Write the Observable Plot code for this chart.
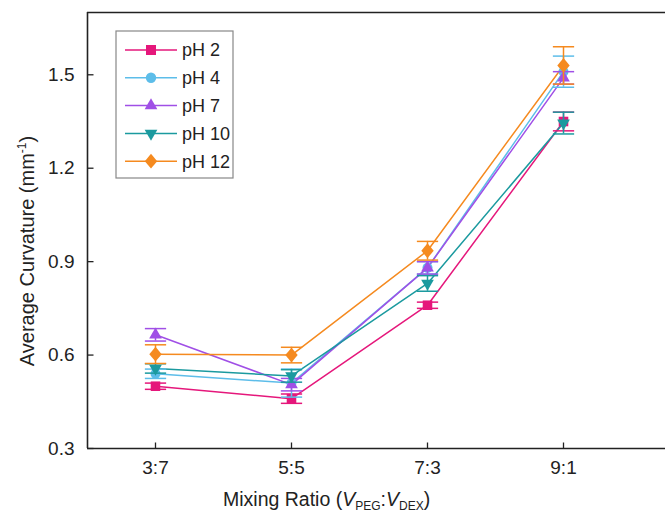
<!DOCTYPE html>
<html>
<head>
<meta charset="utf-8">
<script src="https://cdn.jsdelivr.net/npm/d3@7"></script>
<script src="https://cdn.jsdelivr.net/npm/@observablehq/plot@0.6"></script>
<style>
  html, body { margin: 0; padding: 0; background: #fff; }
  #chart { width: 665px; height: 516px; }
  svg { font-family: "Liberation Sans", Arial, sans-serif; }
</style>
</head>
<body>
<div id="chart"></div>
<script>
const ratios = ["3:7", "5:5", "7:3", "9:1"];
const seriesNames = ["pH 2", "pH 4", "pH 7", "pH 10", "pH 12"];
const colors = ["#E5177B", "#5DBDE9", "#A04FE6", "#1B9A9F", "#F58A1F"];
const symbols = ["square", "circle", "triangle", "triangleDown", "diamond"];

const pH2  = [0.50, 0.46, 0.76, 1.35];
const pH4  = [0.54, 0.51, 0.88, 1.51];
const pH7  = [0.665, 0.505, 0.88, 1.49];
const pH10 = [0.557, 0.533, 0.83, 1.345];
const pH12 = [0.603, 0.60, 0.935, 1.53];

const err2  = [0.010, 0.015, 0.010, 0.030];
const err4  = [0.015, 0.045, 0.020, 0.050];
const err7  = [0.020, 0.020, 0.020, 0.020];
const err10 = [0.015, 0.020, 0.025, 0.035];
const err12 = [0.030, 0.025, 0.030, 0.060];

const yTicks = [0.3, 0.6, 0.9, 1.2, 1.5];
const xTicks = [1, 2, 3, 4];

const values = [pH2, pH4, pH7, pH10, pH12];
const errors = [err2, err4, err7, err10, err12];

const rows = [];
values.forEach((vals, si) => {
  vals.forEach((v, i) => {
    rows.push({series: seriesNames[si], si, xi: i + 1, ratio: ratios[i], y: v, e: errors[si][i]});
  });
});

const capSymbol = {
  draw(ctx, size) {
    const w = Math.sqrt(size);
    ctx.moveTo(-w, 0);
    ctx.lineTo(w, 0);
  }
};
// inward tick symbols
const tickRight = { draw(ctx) { ctx.moveTo(0, 0); ctx.lineTo(6, 0); } };
const tickUp = { draw(ctx) { ctx.moveTo(0, 0); ctx.lineTo(0, -6); } };
const diamondSym = {
  draw(ctx, size) {
    const w = 6.2, h = 7.4;
    ctx.moveTo(0, -h); ctx.lineTo(w, 0); ctx.lineTo(0, h); ctx.lineTo(-w, 0); ctx.closePath();
  }
};

const marks = [];
// axis frame lines
marks.push(Plot.ruleY([0.3], {stroke: "#222", strokeWidth: 1.6}));
marks.push(Plot.ruleY([1.7], {stroke: "#222", strokeWidth: 1.6}));
marks.push(Plot.ruleX([0.5], {stroke: "#222", strokeWidth: 1.6}));
marks.push(Plot.dot(yTicks, {x: () => 0.5, y: d => d, symbol: tickRight, stroke: "#222", strokeWidth: 1.3}));
marks.push(Plot.dot(xTicks, {x: d => d, y: () => 0.3, symbol: tickUp, stroke: "#222", strokeWidth: 1.3}));
// tick labels
marks.push(Plot.text(yTicks, {x: () => 0.5, y: d => d, text: d => d3.format(".1f")(d), textAnchor: "end", dx: -13, fontSize: 19, fill: "#222"}));
marks.push(Plot.text(xTicks, {x: d => d, y: () => 0.3, text: d => ratios[d - 1], lineAnchor: "top", dy: 12, fontSize: 19, fill: "#222"}));

seriesNames.forEach((name, si) => {
  const d = rows.filter(r => r.si === si);
  const c = colors[si];
  marks.push(Plot.line(d, {x: "xi", y: "y", stroke: c, strokeWidth: 1.5}));
});
seriesNames.forEach((name, si) => {
  const d = rows.filter(r => r.si === si);
  const c = colors[si];
  marks.push(Plot.ruleX(d, {x: "xi", y1: r => r.y - r.e, y2: r => r.y + r.e, stroke: c, strokeWidth: 1.5}));
  marks.push(Plot.dot(d, {x: "xi", y: r => r.y + r.e, symbol: capSymbol, r: 6, stroke: c, fill: "none", strokeWidth: 1.5}));
  marks.push(Plot.dot(d, {x: "xi", y: r => r.y - r.e, symbol: capSymbol, r: 6, stroke: c, fill: "none", strokeWidth: 1.5}));
  const sym = symbols[si];
  const opts = {x: "xi", y: "y", fill: c, stroke: "none"};
  if (sym === "square") Object.assign(opts, {symbol: "square", r: 5.4});
  else if (sym === "circle") Object.assign(opts, {symbol: "circle", r: 5});
  else if (sym === "triangle") Object.assign(opts, {symbol: "triangle", r: 4.7});
  else if (sym === "triangleDown") Object.assign(opts, {symbol: "triangle", r: 4.7, rotate: 180});
  else Object.assign(opts, {symbol: diamondSym, r: 6});
  marks.push(Plot.dot(d, opts));
});

const chart = Plot.plot({
  width: 665,
  height: 516,
  marginLeft: 87,
  marginTop: 12,
  marginBottom: 68,
  marginRight: 0,
  style: {fontFamily: "'Liberation Sans', Arial, sans-serif", fontSize: "18px", color: "#222", background: "#fff"},
  x: {domain: [0.5, 4.75], axis: null},
  y: {domain: [0.3, 1.7], axis: null},
  marks
});

document.getElementById("chart").appendChild(chart);

const svg = d3.select(chart);

// Y axis title
const yt = svg.append("text")
  .attr("transform", "translate(34,251) rotate(-90)")
  .attr("text-anchor", "middle")
  .style("font-size", "20px")
  .attr("fill", "#222");
yt.append("tspan").text("Average Curvature (mm");
yt.append("tspan").style("font-size", "12px").attr("dy", -8).text("-1");
yt.append("tspan").attr("dy", 8).text(")");

// X axis title
const xt = svg.append("text")
  .attr("x", 223)
  .attr("y", 506)
  .attr("text-anchor", "start")
  .style("font-size", "19.5px")
  .attr("fill", "#222");
xt.append("tspan").text("Mixing Ratio (");
xt.append("tspan").attr("font-style", "italic").text("V");
xt.append("tspan").style("font-size", "12px").attr("dy", 4).text("PEG");
xt.append("tspan").attr("dy", -4).text(":");
xt.append("tspan").attr("font-style", "italic").text("V");
xt.append("tspan").style("font-size", "12px").attr("dy", 4).text("DEX");
xt.append("tspan").attr("dy", -4).text(")");

// Legend
const lg = svg.append("g").attr("transform", "translate(116,31)");
lg.append("rect").attr("width", 117).attr("height", 147)
  .attr("fill", "#fff").attr("stroke", "#888").attr("stroke-width", 1.2);
seriesNames.forEach((name, si) => {
  const yy = 19 + si * 27.8;
  const g = lg.append("g").attr("transform", `translate(0,${yy})`);
  g.append("line").attr("x1", 9).attr("x2", 61).attr("y1", 0).attr("y2", 0)
    .attr("stroke", colors[si]).attr("stroke-width", 1.5);
  let path;
  if (si === 0) path = d3.symbol(d3.symbolSquare, 100)();
  else if (si === 1) path = d3.symbol(d3.symbolCircle, 85)();
  else if (si === 2 || si === 3) path = d3.symbol(d3.symbolTriangle, 70)();
  else path = "M0,-7.4L6.2,0L0,7.4L-6.2,0Z";
  g.append("path").attr("d", path)
    .attr("transform", `translate(35,0) rotate(${si === 3 ? 180 : 0})`)
    .attr("fill", colors[si]);
  g.append("text").attr("x", 66).attr("y", 0).attr("dy", "0.35em")
    .attr("text-anchor", "start")
    .style("font-size", "18px").attr("fill", "#222").text(name);
});
</script>
</body>
</html>
